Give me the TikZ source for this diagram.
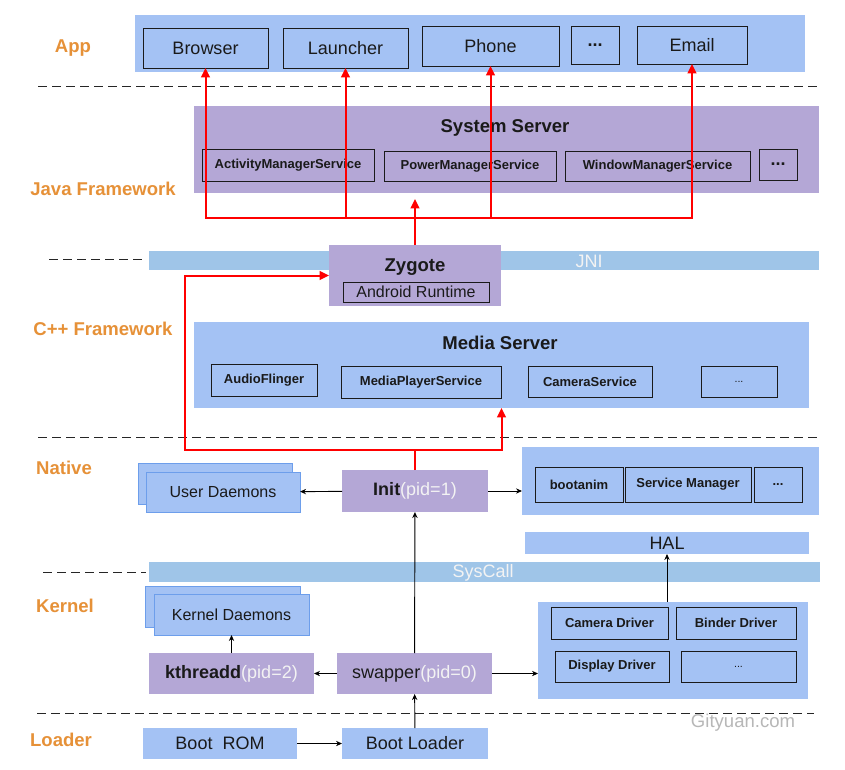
\documentclass[tikz,border=0pt]{standalone}
\usepackage{fontspec}
\setmainfont{Liberation Sans}
\usetikzlibrary{arrows.meta}
\definecolor{lb}{HTML}{A4C2F4}
\definecolor{barc}{HTML}{9FC5E8}
\definecolor{pu}{HTML}{B4A7D6}
\definecolor{org}{HTML}{E69138}
\definecolor{wt}{HTML}{F3F3F3}
\definecolor{gy}{HTML}{B7B7B7}
\definecolor{stk}{HTML}{6D9EEB}
\definecolor{ink}{HTML}{1A1A1A}
\newcommand{\fbig}{\fontsize{13.5pt}{16pt}\selectfont}
\newcommand{\fmid}{\fontsize{12pt}{14pt}\selectfont}
\newcommand{\fsml}{\fontsize{9.75pt}{12pt}\selectfont\bfseries}
% \boxat{style}{name}{x1}{y1}{x2}{y2}{text}
\newcommand{\boxat}[7]{%
  \node[#1,minimum width={(#5-#3)*0.75pt},minimum height={(#6-#4)*0.75pt}]
    (#2) at ({(#3+#5)/2},{(#4+#6)/2}) {#7};}
\begin{document}
\begin{tikzpicture}[x=0.75pt,y=-0.75pt,
  area/.style={inner sep=0pt,outer sep=0pt,text=ink,rectangle},
  panel/.style={area,fill=lb},
  ppanel/.style={area,fill=pu},
  barbox/.style={area,fill=barc},
  appbox/.style={area,fill=lb,draw=ink,line width=0.75pt,font=\fbig},
  sbox/.style={area,draw=ink,line width=0.75pt,font=\fsml},
  stack/.style={area,fill=lb,draw=stk,line width=0.6pt,font=\fmid},
  layer/.style={text=org,font=\fontsize{13.9pt}{16pt}\selectfont\bfseries},
  title/.style={text=ink,font=\fontsize{13.9pt}{16pt}\selectfont\bfseries},
  sepline/.style={line width=0.75pt,dash pattern=on 6.75pt off 3.75pt,black!85},
  redline/.style={red,line width=1.5pt},
  redarrow/.style={redline,-{Triangle[length=7pt,width=6.5pt]}},
  blkarrow/.style={black,line width=0.7pt,-{Stealth[length=4.5pt,width=4pt]}}]
\useasboundingbox (0,0) rectangle (845,769);
\fill[white] (0,0) rectangle (845,769);

% layer labels
\node[layer] (lapp) at (73,48) {App};
\node[layer] (ljava) at (103,189) {Java Framework};
\node[layer] (lcpp) at (103,329) {C++ Framework};
\node[layer] (lnat) at (64,468) {Native};
\node[layer] (lker) at (65,606) {Kernel};
\node[layer] (lload) at (61,740) {Loader};

% separators
\draw[sepline] (38,86) -- (822,86);
\draw[sepline] (49,259) -- (146,259);
\draw[sepline] (38,437) -- (819,437);
\draw[sepline] (43,572) -- (146,572);
\draw[sepline] (37,713) -- (814,713);

% App layer
\boxat{panel}{app}{135}{15}{805}{72}{}
\boxat{appbox}{browser}{143}{28}{268}{68}{Browser}
\boxat{appbox}{launcher}{283}{28}{408}{68}{Launcher}
\boxat{appbox}{phone}{422}{26}{559}{66}{Phone}
\boxat{appbox,font=\fbig\bfseries}{appdots}{571}{26}{619}{64}{...}
\boxat{appbox}{email}{637}{26}{747}{64}{Email}

% System server
\boxat{ppanel}{sysserver}{194}{106}{819}{193}{}
\node[title] (systitle) at (505,128) {System Server};
\boxat{sbox}{ams}{202}{149}{374}{181}{ActivityManagerService}
\boxat{sbox}{pms}{384}{151}{556}{181}{PowerManagerService}
\boxat{sbox}{wms}{565}{151}{750}{181}{WindowManagerService}
\boxat{sbox,font=\fbig\bfseries}{ssdots}{759}{149}{797}{180}{...}

% JNI + Zygote
\boxat{barbox}{jni}{149}{251}{819}{270}{}
\node[text=wt,font=\fbig] (jnitext) at (589,261) {JNI};
\boxat{ppanel}{zygote}{329}{245}{501}{306}{}
\node[title] (zygtitle) at (415,267) {Zygote};
\boxat{area,draw=ink,line width=0.75pt,font=\fmid}{art}{343}{282}{489}{302}{Android Runtime}

% Media server
\boxat{panel}{media}{194}{322}{809}{408}{}
\node[title] (medtitle) at (500,343) {Media Server};
\boxat{sbox}{af}{211}{364}{317}{396}{AudioFlinger}
\boxat{sbox}{mps}{341}{366}{501}{398}{MediaPlayerService}
\boxat{sbox}{cs}{528}{366}{652}{397}{CameraService}
\boxat{area,draw=ink,line width=0.75pt,font=\fontsize{8pt}{10pt}\selectfont}{mdots}{701}{366}{777}{397}{...}

% Native
\boxat{stack}{udback}{138}{463}{292}{504}{}
\boxat{stack}{udfront}{146}{472}{300}{512}{User Daemons}
\boxat{ppanel,font=\fbig}{init}{342}{470}{488}{512}{\textbf{Init}\textcolor{wt}{(pid=1)}}
\boxat{panel}{natpanel}{522}{447}{819}{515}{}
\boxat{sbox}{bootanim}{535}{467}{623}{502}{bootanim}
\boxat{sbox}{sm}{625}{467}{751}{502}{Service Manager}
\boxat{sbox}{ndots}{754}{467}{802}{502}{...}
\boxat{panel,font=\fbig}{hal}{525}{532}{809}{554}{HAL}

% SysCall
\boxat{barbox}{syscall}{149}{562}{820}{582}{}
\node[text=wt,font=\fbig] (sctext) at (483,573) {SysCall};

% Kernel
\boxat{stack}{kdback}{145}{586}{300}{627}{}
\boxat{stack}{kdfront}{154}{594}{309}{635}{Kernel Daemons}
\boxat{ppanel,font=\fbig}{kthreadd}{149}{653}{314}{694}{\textbf{kthreadd}\textcolor{wt}{(pid=2)}}
\boxat{ppanel,font=\fbig}{swapper}{337}{653}{492}{694}{swapper\textcolor{wt}{(pid=0)}}
\boxat{panel}{drv}{538}{602}{808}{699}{}
\boxat{sbox}{camdrv}{551}{607}{668}{639}{Camera Driver}
\boxat{sbox}{binder}{676}{607}{796}{639}{Binder Driver}
\boxat{sbox}{disp}{555}{651}{669}{682}{Display Driver}
\boxat{area,draw=ink,line width=0.75pt,font=\fontsize{8pt}{10pt}\selectfont}{ddots}{681}{651}{796}{682}{...}

% Loader
\node[text=gy,font=\fontsize{13.9pt}{16pt}\selectfont] (gity) at (743,723) {Gityuan.com};
\boxat{panel,font=\fbig}{bootrom}{143}{728}{297}{759}{Boot\ \ ROM}
\boxat{panel,font=\fbig}{bootloader}{342}{728}{488}{759}{Boot Loader}

% black arrows
\draw[blkarrow] (bootrom) -- (bootloader);
\draw[blkarrow] (bootloader) -- (swapper);
\draw[blkarrow] (swapper) -- (kthreadd);
\draw[blkarrow] (swapper) -- (drv.west |- swapper.east);
\draw[blkarrow] (kthreadd.north) -- (kdfront.south);
\draw[blkarrow] (swapper) -- (init);
\draw[blkarrow] (init) -- (udfront);
\draw[blkarrow] (init.east) -- (natpanel.west |- init.east);
\draw[blkarrow] (hal.south |- drv.north) -- (hal.south);

% red connectors
\coordinate (j) at (415,218);
\coordinate (k) at (415,450);
\coordinate (kl) at (185,450);
\draw[redarrow,shorten >=4.5pt] (zygote.north) -- (zygote.north |- sysserver.south);
\draw[redarrow] (j) -| (browser.south);
\draw[redarrow] (j) -| (launcher.south);
\draw[redarrow] (j) -| (phone.south);
\draw[redarrow] (j) -| (email.south);
\draw[redline] (init.north) -- (k);
\draw[redarrow] (k) -- (kl) |- (zygote.west);
\draw[redarrow] (k) -| (media.south);
\end{tikzpicture}
\end{document}
